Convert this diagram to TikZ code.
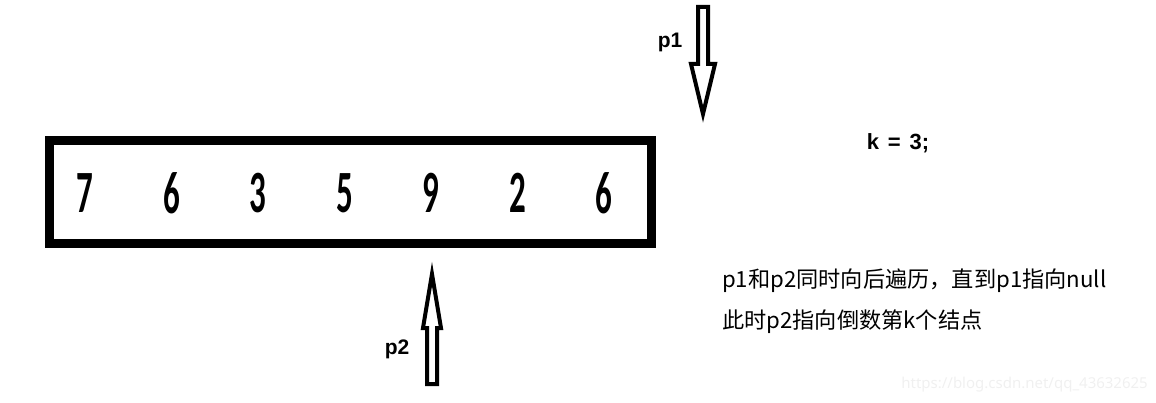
\documentclass[tikz,border=0pt]{standalone}
\usepackage{fontspec}
\setmainfont{Noto Sans}
\newfontfamily\cjk{Noto Sans CJK SC}
\newfontfamily\digitfont{Carlito}
\newfontfamily\labelfont{Liberation Sans}
\usetikzlibrary{arrows}

\begin{document}
\begin{tikzpicture}[x=1pt,y=-1pt]
  \tikzset{
    hollow/.style={line width=4pt, line join=miter, fill=white},
    cell/.style={font=\digitfont\bfseries\fontsize{60}{60}\selectfont, inner sep=0pt},
    ptr/.style={font=\labelfont\bfseries\fontsize{21}{24}\selectfont, inner sep=0pt},
    note/.style={font=\cjk\fontsize{22.2}{26}\selectfont, anchor=west, inner sep=0pt}
  }

  \useasboundingbox (0,0) rectangle (1156,403);

  % the list
  \draw[line width=9pt] (49,141) rectangle (651,244);
  \foreach \v [count=\i] in {7,6,3,5,9,2,6}
    \node[cell] (n\i) at ({85+86.5*(\i-1)},193) {\scalebox{0.55}[1]{\v}};

  % p1 and p2
  \coordinate (ponetip) at (703,114);
  \draw[hollow] (ponetip) -- ++(12,-50) -- ++(-7,0) -- ++(0,-57)
    -- ++(-10,0) -- ++(0,57) -- ++(-7,0) -- cycle;
  \node[ptr] (pone) at (670,42) {p1};

  \coordinate (ptwotip) at (432,274);
  \draw[hollow] (ptwotip) -- ++(9,54) -- ++(-4,0) -- ++(0,56)
    -- ++(-10,0) -- ++(0,-56) -- ++(-4,0) -- cycle;
  \node[ptr] (ptwo) at (397,349) {p2};

  \node[ptr, font=\labelfont\bfseries\fontsize{22}{24}\selectfont] (k) at (898,143)
    {k\hspace{0.4em}=\hspace{0.4em}3;};

  \node[note] (lineone) at (722,281) {p1和p2同时向后遍历，直到p1指向null};
  \node[note] (linetwo) at (722,322) {此时p2指向倒数第k个结点};

  \node[anchor=east, inner sep=0pt, text=black!6, font=\fontsize{15}{18}\selectfont]
    (wm) at (1148,385) {https://blog.csdn.net/qq\_43632625};
\end{tikzpicture}
\end{document}
